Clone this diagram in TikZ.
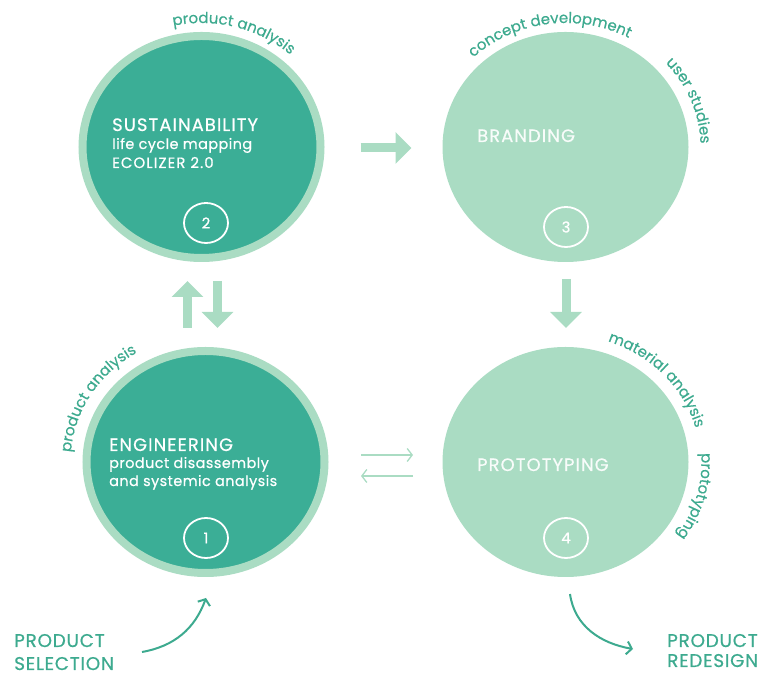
\documentclass[tikz,border=0pt]{standalone}
\usepackage{fontspec}
\setmainfont{Poppins}
\usetikzlibrary{shapes.geometric,arrows.meta,decorations.text,calc}

\definecolor{deep}{HTML}{3BAE96}
\definecolor{pale}{HTML}{AADCC3}
\definecolor{ink}{HTML}{3DAA8F}

% type sizes: slightly heavier, slightly tracked
\newcommand{\weight}{\addfontfeature{FakeBold=0.6}}
\newcommand{\titlesize}{\fontsize{18}{20}\selectfont\addfontfeature{LetterSpace=6,FakeBold=0.6}}
\newcommand{\subsize}{\fontsize{14.5}{17}\selectfont\addfontfeature{LetterSpace=3,FakeBold=0.6}}
\newcommand{\subcaps}{\fontsize{15}{17}\selectfont\addfontfeature{LetterSpace=7,FakeBold=0.6}}
\newcommand{\arcsize}{\fontsize{15}{17}\selectfont\addfontfeature{LetterSpace=2,FakeBold=0.5}}
\newcommand{\cornersize}{\fontsize{18.5}{21}\selectfont\addfontfeature{LetterSpace=4,FakeBold=0.6}}

\begin{document}
\begin{tikzpicture}[x=1bp,y=1bp,
  stagedark/.style={ellipse, minimum width=238bp, minimum height=222bp,
    inner sep=0pt, fill=deep, draw=pale, line width=8bp},
  stagepale/.style={ellipse, minimum width=238bp, minimum height=222bp,
    inner sep=0pt, fill=pale, draw=pale, line width=8bp},
  numring/.style={ellipse, minimum width=44bp, minimum height=40bp,
    inner sep=0pt, draw=white, line width=1.8bp, text=white,
    font=\fontsize{15}{15}\selectfont\weight},
  intext/.style={anchor=base west, inner sep=0pt, text=white},
  cornertext/.style={anchor=base west, inner sep=0pt, text=ink, font=\cornersize},
  bigarrow/.style={draw=pale, line width=9bp,
    -{Triangle[width=31bp,length=16bp]}},
  thinarrow/.style={draw=pale, line width=1.3bp,
    -{Straight Barb[length=5bp,width=13bp]}},
  curvearrow/.style={draw=ink, line width=2bp,
    -{Straight Barb[length=5bp,width=13bp]}},
  arclabel/.style={decorate, decoration={text along path, text align=center,
    text={|\color{ink}\arcsize|#1}}}
]
\useasboundingbox (0,0) rectangle (760,675);

% the four stages
\node[stagedark] (c2) at (201.5,528) {};
\node[stagedark] (c1) at (205.5,213) {};
\node[stagepale] (c3) at (565.5,528) {};
\node[stagepale] (c4) at (565.5,213) {};

% step numbers
\node[numring] (n2) at (206,452) {2};
\node[numring] (n1) at (206,137) {1};
\node[numring] (n3) at (566,448) {3};
\node[numring] (n4) at (566,137) {4};

% stage texts
\node[intext, font=\titlesize] (t2a) at (112,544) {SUSTAINABILITY};
\node[intext, font=\subsize] (t2b) at (112,526) {life cycle mapping};
\node[intext, font=\subcaps] (t2c) at (112,507) {ECOLIZER 2.0};
\node[intext, font=\titlesize] (t1a) at (109,224) {ENGINEERING};
\node[intext, font=\subsize] (t1b) at (109,207) {product disassembly};
\node[intext, font=\subsize] (t1c) at (109,189) {and systemic analysis};
\node[intext, font=\titlesize, text=white!92!pale] (t3) at (477,533) {BRANDING};
\node[intext, font=\titlesize, text=white!92!pale] (t4) at (477,204) {PROTOTYPING};

% activity labels around the stages
\path[arclabel={product analysis}] ($(c2)+(140:133 and 124)$)
  arc[start angle=140, end angle=9, x radius=133, y radius=124];
\path[arclabel={concept development}] ($(c3)+(165:133 and 124)$)
  arc[start angle=165, end angle=31, x radius=133, y radius=124];
\path[arclabel={user studies}] ($(c3)+(80:135 and 125)$)
  arc[start angle=80, end angle=-38, x radius=135, y radius=125];
\path[arclabel={material analysis}] ($(c4)+(110:135 and 127)$)
  arc[start angle=110, end angle=-25, x radius=135, y radius=127];
\path[arclabel={prototyping}] ($(c4)+(45:136 and 127)$)
  arc[start angle=45, end angle=-75, x radius=136, y radius=127];
\path[arclabel={product analysis}] ($(c1)+(214:135 and 127)$)
  arc[start angle=214, end angle=84, x radius=135, y radius=127];

% flow between stages
\draw[bigarrow] ($(c2.east)+(36,-1)$) -- ($(c3.west)+(-31,-1)$);
\draw[bigarrow] ($(c1.north)+(-18,19)$) -- ($(c2.south)+(-14,-19)$);
\draw[bigarrow] ($(c2.south)+(16,-19)$) -- ($(c1.north)+(12,19)$);
\draw[bigarrow] ($(c3.south)+(0.5,-17)$) -- ($(c4.north)+(0.5,19)$);
\draw[thinarrow] ($(c1.east)+(32.5,7)$) -- ($(c4.west)+(-29.5,7)$);
\draw[thinarrow] ($(c4.west)+(-29.5,-14)$) -- ($(c1.east)+(32.5,-14)$);

% entry and exit
\node[cornertext] (sel1) at (14,28) {PRODUCT};
\node[cornertext] (sel2) at (14,5) {SELECTION};
\node[cornertext] (red1) at (667,28) {PRODUCT};
\node[cornertext] (red2) at (667,8) {REDESIGN};
\coordinate (s0) at (142,23);
\coordinate (r0) at (633,26);
\draw[curvearrow] (s0) to[out=10, in=250] ($(c1.south)+(0.5,-21)$);
\draw[curvearrow] ($(c4.south)+(4.5,-17)$) to[out=-82, in=170] (r0);
\end{tikzpicture}
\end{document}
